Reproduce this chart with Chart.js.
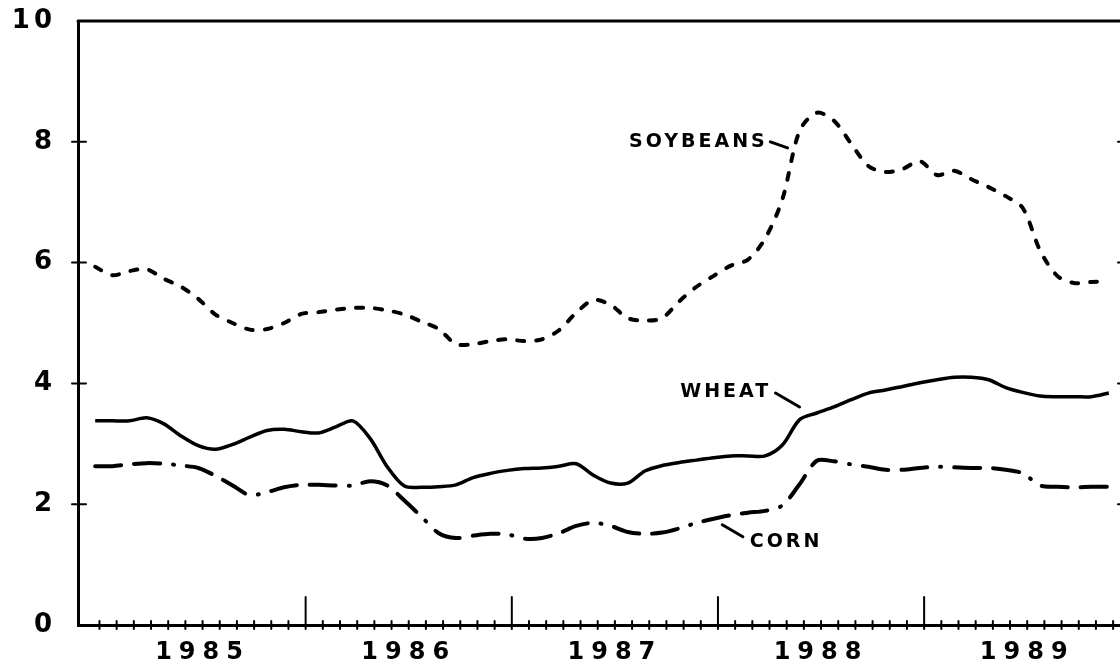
<!DOCTYPE html>
<html>
<head>
<meta charset="utf-8">
<title>Soybeans, wheat and corn, 1985-1989</title>
<script src="https://cdn.jsdelivr.net/npm/chart.js@4.4.1/dist/chart.umd.min.js"></script>
<style>
  html, body { margin: 0; padding: 0; background: #fff; overflow: hidden; }
  /* a bit wider than the window: the right frame falls just off the picture */
  #wrap { position: relative; width: 1140px; height: 661px; }
</style>
</head>
<body>
<div id="wrap"><canvas id="prices"></canvas></div>
<script>
// Monthly values, January 1985 to December 1989
const YEARS = ['1985', '1986', '1987', '1988', '1989'];
const Y_TICKS = [0, 2, 4, 6, 8, 10];

const SOYBEANS = [
    5.93, 5.79, 5.86, 5.89, 5.73, 5.60, 5.40, 5.14, 5.00, 4.89, 4.90, 5.00,
    5.15, 5.18, 5.22, 5.25, 5.25, 5.21, 5.14, 5.02, 4.90, 4.65, 4.65, 4.70,
    4.73, 4.70, 4.73, 4.88, 5.17, 5.38, 5.30, 5.08, 5.04, 5.08, 5.36, 5.60,
    5.78, 5.95, 6.05, 6.40, 7.05, 8.18, 8.48, 8.35, 7.97, 7.60, 7.50, 7.55,
    7.68, 7.45, 7.52, 7.38, 7.25, 7.10, 6.90, 6.20, 5.78, 5.66, 5.68, 5.68
];
const WHEAT = [
    3.38, 3.38, 3.38, 3.43, 3.33, 3.13, 2.97, 2.91, 2.99, 3.11, 3.22, 3.24,
    3.20, 3.18, 3.28, 3.38, 3.09, 2.62, 2.30, 2.28, 2.29, 2.32, 2.44, 2.51,
    2.56, 2.59, 2.60, 2.63, 2.67, 2.48, 2.35, 2.35, 2.55, 2.64, 2.69, 2.73,
    2.77, 2.80, 2.80, 2.80, 2.98, 3.40, 3.51, 3.61, 3.73, 3.84, 3.89, 3.95,
    4.01, 4.06, 4.10, 4.10, 4.06, 3.93, 3.85, 3.79, 3.78, 3.78, 3.78, 3.84
];
const CORN = [
    2.63, 2.63, 2.66, 2.68, 2.67, 2.64, 2.60, 2.47, 2.31, 2.15, 2.20, 2.28,
    2.32, 2.32, 2.31, 2.31, 2.38, 2.31, 2.06, 1.79, 1.52, 1.44, 1.48, 1.51,
    1.50, 1.43, 1.44, 1.52, 1.64, 1.69, 1.64, 1.54, 1.51, 1.53, 1.60, 1.69,
    1.76, 1.82, 1.86, 1.89, 1.98, 2.33, 2.72, 2.71, 2.66, 2.62, 2.57, 2.57,
    2.60, 2.62, 2.61, 2.60, 2.60, 2.57, 2.51, 2.31, 2.29, 2.28, 2.29, 2.29
];

// month boundaries sit a quarter month after each plotted point
const MONTH_EDGE = 0.25;
const FONT = "'DejaVu Sans', sans-serif";

function toPoints(values) {
    return values.map((v, i) => ({ x: i, y: v }));
}

// Chart.js has no letter spacing option, so wrap the label drawing of a scale
function spaceLabels(scale, spacing) {
    if (scale._spaced) return;
    const original = scale.drawLabels;
    scale.drawLabels = function (area) {
        const ctx = this.ctx;
        const prev = ctx.letterSpacing;
        ctx.letterSpacing = spacing;
        original.call(this, area);
        ctx.letterSpacing = prev;
    };
    scale._spaced = true;
}

// Frame, inward tick marks and the series names
const frame = {
    id: 'frame',
    beforeDraw(chart) {
        spaceLabels(chart.scales.x, '7px');
        spaceLabels(chart.scales.y, '4px');
    },
    afterDraw(chart) {
        const { ctx, chartArea: a, scales: { x, y } } = chart;
        const line = (x1, y1, x2, y2) => {
            ctx.beginPath();
            ctx.moveTo(x1, y1);
            ctx.lineTo(x2, y2);
            ctx.stroke();
        };
        ctx.save();
        ctx.strokeStyle = '#000';
        ctx.lineCap = 'round';

        ctx.lineWidth = 3;
        line(a.left, a.top, a.right, a.top);
        line(a.right, a.top, a.right, a.bottom);

        ctx.lineWidth = 2;
        for (let m = 0; m < 60; m++) {
            const px = x.getPixelForValue(m + MONTH_EDGE);
            const up = (m % 12 === 0 && m > 0) ? 28 : 4;
            line(px, a.bottom - up, px, a.bottom + 4);
        }
        Y_TICKS.slice(1, -1).forEach(v => {
            const py = y.getPixelForValue(v);
            line(a.left - 6, py, a.left + 8, py);
            line(a.right - 8, py, a.right, py);
        });

        // series names with their leader lines
        ctx.font = 'bold 19px ' + FONT;
        ctx.letterSpacing = '3px';
        ctx.fillStyle = '#000';
        ctx.textBaseline = 'middle';
        ctx.lineWidth = 3;
        const labels = [
            { text: 'SOYBEANS', at: [39.15, 8.0], align: 'right', lead: [39.3, 8.0, 40.3, 7.9] },
            { text: 'WHEAT', at: [39.35, 3.86], align: 'right', lead: [39.6, 3.84, 41.0, 3.61] },
            { text: 'CORN', at: [38.1, 1.37], align: 'left', lead: [36.5, 1.66, 37.7, 1.46] }
        ];
        labels.forEach(l => {
            ctx.textAlign = l.align;
            ctx.fillText(l.text, x.getPixelForValue(l.at[0]), y.getPixelForValue(l.at[1]));
            line(x.getPixelForValue(l.lead[0]), y.getPixelForValue(l.lead[1]),
                 x.getPixelForValue(l.lead[2]), y.getPixelForValue(l.lead[3]));
        });
        ctx.restore();
    }
};

function initPriceChart() {
    const ctx = document.getElementById('prices');
    if (!ctx) return null;

    return new Chart(ctx, {
        type: 'line',
        data: {
            datasets: [
                {
                    label: 'SOYBEANS',
                    data: toPoints(SOYBEANS),
                    borderColor: '#000',
                    borderWidth: 4,
                    borderDash: [7, 12],
                    borderCapStyle: 'round'
                },
                {
                    label: 'WHEAT',
                    data: toPoints(WHEAT),
                    borderColor: '#000',
                    borderWidth: 3.5
                },
                {
                    label: 'CORN',
                    data: toPoints(CORN),
                    borderColor: '#000',
                    borderWidth: 4,
                    borderDash: [26, 13, 26, 13, 1, 13],
                    borderCapStyle: 'round'
                }
            ]
        },
        options: {
            responsive: true,
            maintainAspectRatio: false,
            animation: false,
            layout: { padding: { top: 21, right: 14, left: 0, bottom: 0 } },
            elements: {
                point: { radius: 0 },
                line: { tension: 0.3, fill: false }
            },
            scales: {
                x: {
                    type: 'linear',
                    min: -1,
                    max: 60,
                    afterFit: s => {
                        s.height = 36;
                        s.paddingLeft = 0;
                        s.paddingRight = 0;
                    },
                    afterBuildTicks: s => {
                        s.ticks = YEARS.map((_, i) => ({ value: 6 + MONTH_EDGE + 12 * i }));
                    },
                    grid: { drawOnChartArea: false, drawTicks: false },
                    border: { color: '#000', width: 3 },
                    ticks: {
                        color: '#000',
                        padding: 13,
                        maxRotation: 0,
                        font: { family: FONT, size: 24, weight: 'bold' },
                        callback: v => YEARS[Math.round((v - 6 - MONTH_EDGE) / 12)]
                    }
                },
                y: {
                    min: 0,
                    max: 10,
                    afterFit: s => {
                        s.width = 78;
                        s.paddingTop = 0;
                        s.paddingBottom = 0;
                    },
                    afterBuildTicks: s => {
                        s.ticks = Y_TICKS.map(v => ({ value: v }));
                    },
                    grid: { drawOnChartArea: false, drawTicks: false },
                    border: { color: '#000', width: 3 },
                    ticks: {
                        color: '#000',
                        padding: 22,
                        font: { family: FONT, size: 26, weight: 'bold' }
                    }
                }
            },
            plugins: {
                legend: { display: false },
                tooltip: { enabled: false }
            }
        },
        plugins: [frame]
    });
}

document.addEventListener('DOMContentLoaded', initPriceChart);
</script>
</body>
</html>
